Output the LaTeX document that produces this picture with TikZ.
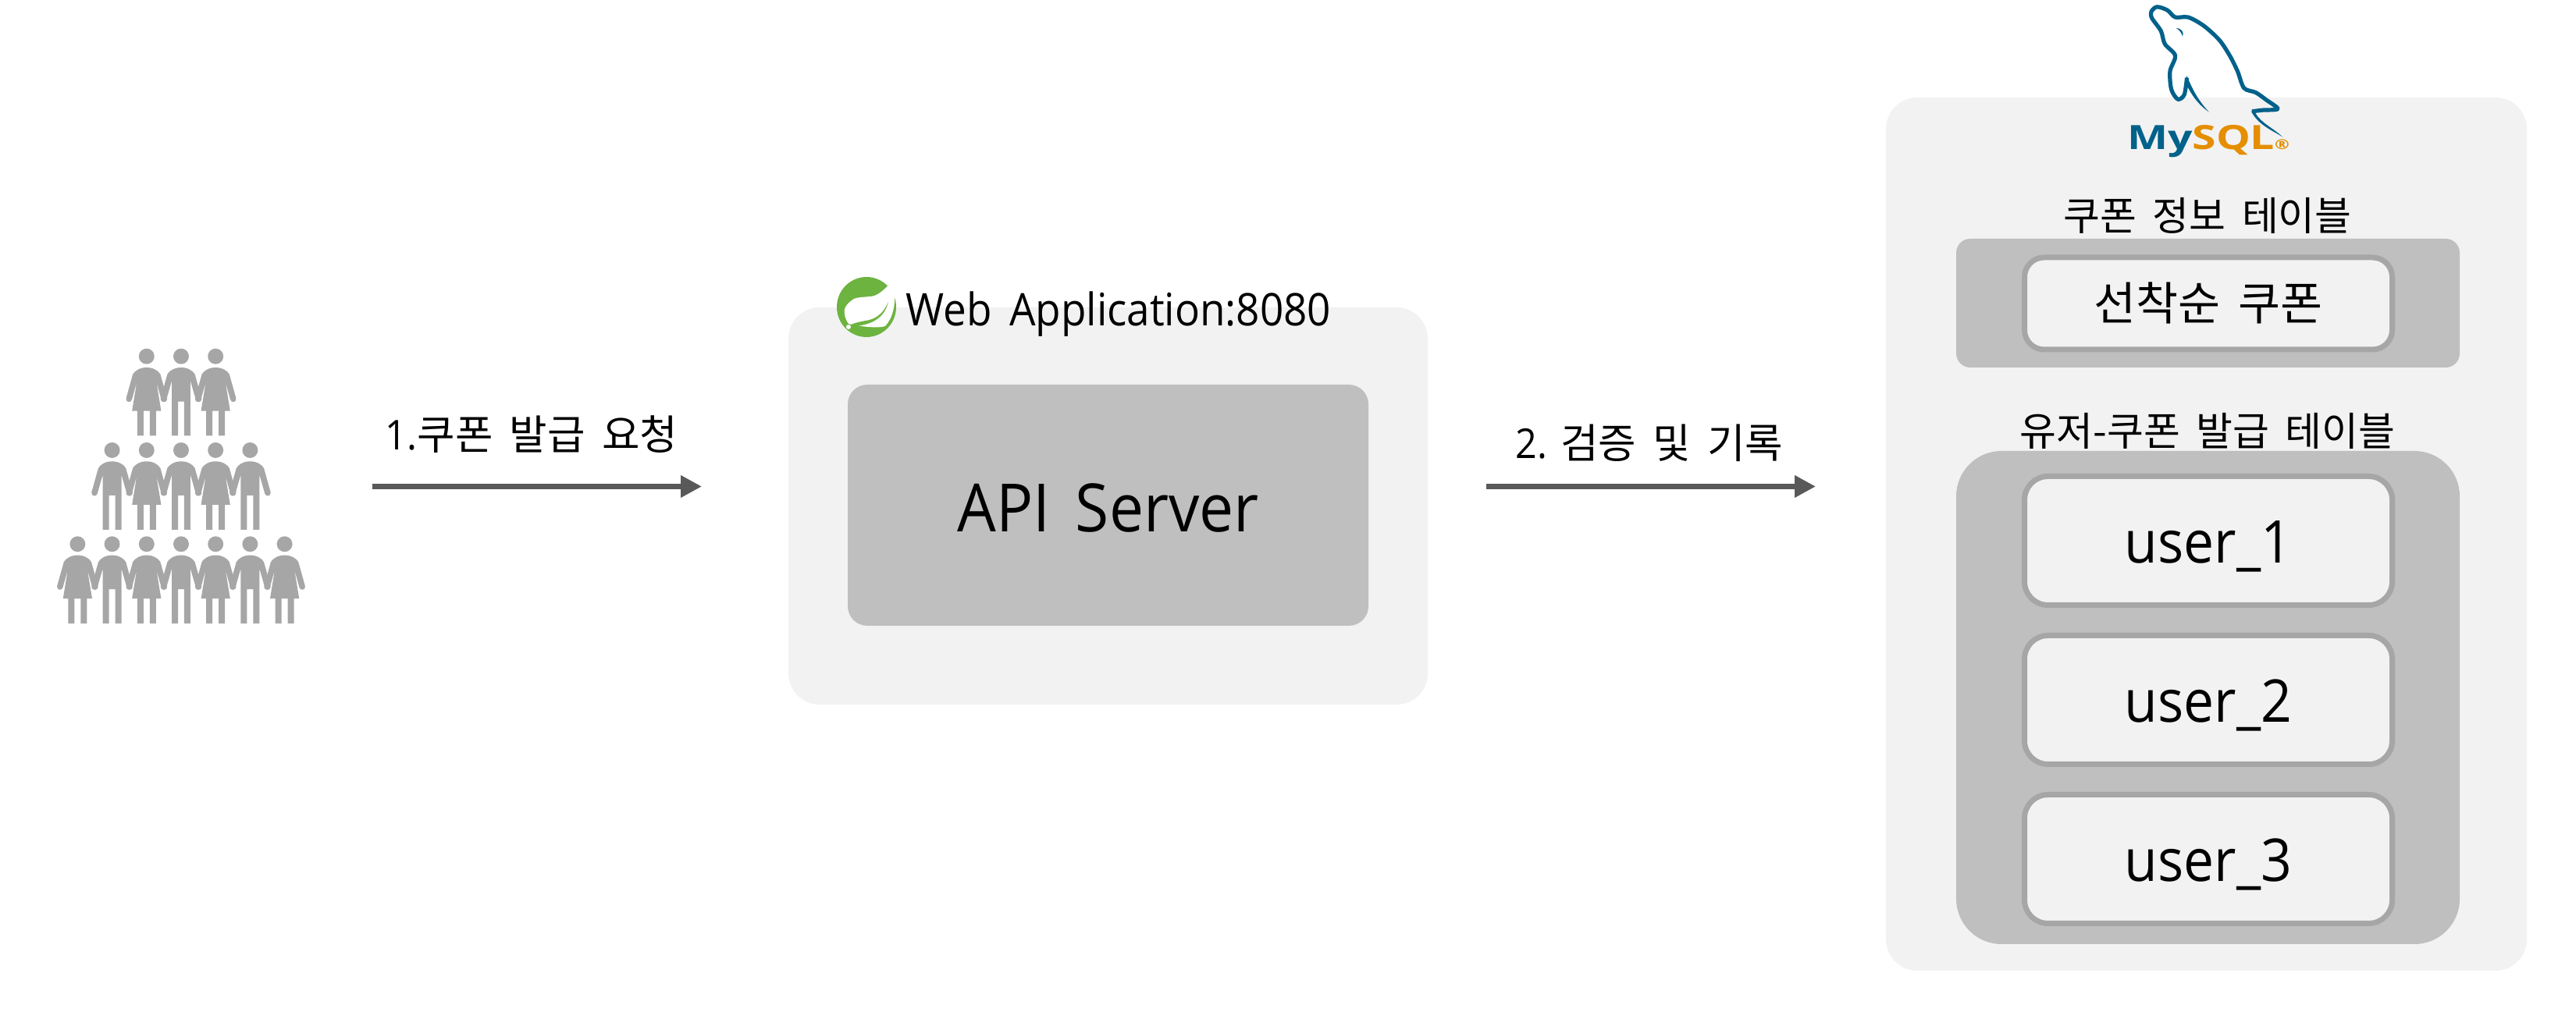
\documentclass[tikz,border=0pt]{standalone}
\usepackage{fontspec}
\setmainfont[FakeStretch=0.92]{Open Sans}
\newfontfamily\wide[FakeStretch=0.92, WordSpace=1.6]{Open Sans}
\newfontfamily\kr[WordSpace=1.8]{Noto Sans CJK KR}
\usetikzlibrary{arrows.meta, positioning}
\definecolor{PanelGray}{RGB}{242,242,242}
\definecolor{BoxGray}{RGB}{191,191,191}
\definecolor{EdgeGray}{RGB}{166,166,166}
\definecolor{FlowGray}{RGB}{89,89,89}
\definecolor{SpringGreen}{RGB}{109,179,63}
\definecolor{MysqlBlue}{RGB}{0,97,138}
\definecolor{MysqlOrange}{RGB}{228,142,0}
\tikzset{
  man/.pic={
    \begin{scope}[x=0.00333cm, y=-0.00333cm]
      \fill[EdgeGray] (0,0) circle (30) (68,165) circle (11) (-68,165) circle (11);
      \fill[EdgeGray] (0,43) .. controls (25,43) and (45,55) .. (53,69) -- (79,162) -- (57,168) -- (36,95)
        -- (36,306) -- (12,306) -- (12,174) -- (-12,174) -- (-12,306) -- (-36,306) -- (-36,95)
        -- (-57,168) -- (-79,162) -- (-53,69) .. controls (-45,55) and (-25,43) .. (0,43) -- cycle;
    \end{scope}
  },
  woman/.pic={
    \begin{scope}[x=0.00333cm, y=-0.00333cm]
      \fill[EdgeGray] (0,0) circle (30) (68,165) circle (11) (-68,165) circle (11);
      \fill[EdgeGray] (0,43) .. controls (25,43) and (45,55) .. (53,69) -- (79,162) -- (57,168) -- (38,100)
        -- (56,210) -- (36,210) -- (36,306) -- (12,306) -- (12,210) -- (-12,210) -- (-12,306) -- (-36,306)
        -- (-36,210) -- (-56,210) -- (-38,100) -- (-57,168) -- (-79,162) -- (-53,69)
        .. controls (-45,55) and (-25,43) .. (0,43) -- cycle;
    \end{scope}
  },
}

\begin{document}
\begin{tikzpicture}[
      panel/.style={fill=PanelGray, rounded corners=0.4cm, outer sep=0pt},
      greybox/.style={fill=BoxGray, outer sep=0pt},
      rowbox/.style={draw=EdgeGray, fill=PanelGray, line width=0.07cm, rounded corners=0.3cm,
                     minimum width=4.71cm, minimum height=1.65cm, outer sep=0pt,
                     text height=0.70cm, text depth=0.12cm,
                     font=\fontsize{21.5}{26}\selectfont},
      flow/.style={-{Triangle[length=0.27cm, width=0.27cm]}, line width=0.067cm, FlowGray},
      caption/.style={font=\kr\fontsize{14.5}{17}\selectfont, inner sep=0pt},
      flowlabel/.style={font=\fontsize{15}{18}\selectfont, inner sep=0pt},
    ]
      \useasboundingbox (0,0) rectangle (33,12.97);

      % crowd
      \node[minimum width=3.18cm, minimum height=3.53cm, outer sep=0pt] (crowd) at (2.32,6.735) {};
      \foreach \col/\kind in {-1/woman, 0/man, 1/woman}
        \pic at (2.32+\col*0.442,8.403) {\kind};
      \foreach \col/\kind in {-2/man, -1/woman, 0/man, 1/woman, 2/man}
        \pic at (2.32+\col*0.442,7.2) {\kind};
      \foreach \col/\kind in {-3/woman, -2/man, -1/woman, 0/man, 1/woman, 2/man, 3/woman}
        \pic at (2.32+\col*0.442,5.997) {\kind};

      % web application
      \node[panel, minimum width=8.19cm, minimum height=5.09cm] (webapp) at (14.195,6.485) {};
      \node[greybox, rounded corners=0.25cm, minimum width=6.67cm, minimum height=3.09cm,
            text height=0.79cm, text depth=0.1cm,
            font=\wide\fontsize{24.3}{30}\selectfont] (api) at (14.195,6.495) {API Server};

      \fill[SpringGreen] (11.10,9.035) ellipse (0.38cm and 0.385cm);
      \fill[white] (11.43,9.37) .. controls (11.30,9.22) and (11.22,9.17) .. (11.14,9.17)
        .. controls (11.05,9.16) and (10.98,9.16) .. (10.94,9.14)
        .. controls (10.84,9.08) and (10.80,9.00) .. (10.82,8.95)
        .. controls (10.82,8.90) and (10.85,8.85) .. (10.87,8.82)
        .. controls (11.05,8.78) and (11.25,8.76) .. (11.34,8.79)
        .. controls (11.44,8.90) and (11.50,9.10) .. (11.43,9.37) -- cycle;
      \fill[SpringGreen] (11.38,9.10) .. controls (11.33,8.98) and (11.25,8.90) .. (11.14,8.87)
        .. controls (11.05,8.85) and (10.95,8.84) .. (10.89,8.80)
        -- (10.98,8.79) .. controls (11.10,8.81) and (11.32,8.85) .. (11.38,9.10) -- cycle;
      \fill[white] (10.87,8.78) circle (0.03);
      \node[anchor=base west, inner sep=0pt, font=\wide\fontsize{16.4}{20}\selectfont] (webtitle)
        at (11.60,8.79) {Web Application:8080};

      % mysql
      \node[panel, minimum width=8.21cm, minimum height=11.19cm] (dbbox) at (28.265,6.125) {};
      \begin{scope}[x=0.00333cm, y=-0.00333cm, shift={(7808,-3895)}]
        \draw[MysqlBlue, line width=0.052cm, line join=round] plot[smooth] coordinates
          {(866,425) (905,420) (965,415) (920,380) (880,352) (835,335) (810,270) (780,210) (740,150)
           (680,95) (620,62) (570,62) (540,35) (500,22) (478,40) (480,65) (515,115) (530,165) (570,210)
           (550,270) (555,340) (580,378) (605,360) (615,295)};
        \fill[MysqlBlue] (608,310) -- (615,288) .. controls (640,350) and (665,390) .. (700,427)
          .. controls (660,400) and (630,360) .. (608,310) -- cycle;
        \fill[MysqlBlue] (862,423) -- (878,430) .. controls (900,470) and (950,490) .. (984,524)
          .. controls (950,500) and (890,480) .. (862,423) -- cycle;
        \fill[MysqlBlue] (574,104) .. controls (595,105) and (605,120) .. (598,136)
          .. controls (594,120) and (586,112) .. (574,104) -- cycle;
      \end{scope}
      \node[xscale=1.4, inner sep=0pt, font=\bfseries\fontsize{12.2}{14}\selectfont] (mysqlname)
        at (28.29,11.16) {\textcolor{MysqlBlue}{My}\textcolor{MysqlOrange}{SQL}\textcolor{MysqlOrange}{\fontsize{5}{6}\selectfont ®}};

      % coupon table
      \node[greybox, rounded corners=0.18cm, minimum width=6.45cm, minimum height=1.65cm] (coupontable)
        at (28.285,9.085) {};
      \node[rowbox, minimum height=1.18cm, rounded corners=0.25cm, text height=\baselineskip, text depth=0pt,
            font=\kr\fontsize{16.7}{20}\selectfont] (coupon) at (28.29,9.08) {선착순 쿠폰};
      \node[caption] (coupontitle) at (28.28,10.21) {쿠폰 정보 테이블};

      % issue table
      \node[greybox, rounded corners=0.58cm, minimum width=6.45cm, minimum height=6.32cm] (issuetable)
        at (28.285,4.03) {};
      \node[rowbox] (user1) at (28.29,6.04) {user\_1};
      \node[rowbox, below=0.39cm of user1] (user2) {user\_2};
      \node[rowbox, below=0.39cm of user2] (user3) {user\_3};
      \node[caption] (issuetitle) at (28.28,7.445) {유저-쿠폰 발급 테이블};

      % requests
      \draw[flow, shorten <=0.86cm, shorten >=1.11cm] (crowd.east) -- (crowd.east -| webapp.west);
      \draw[flow, shorten <=0.75cm, shorten >=0.90cm] (crowd.east -| webapp.east) -- (crowd.east -| dbbox.west);
      \node[flowlabel] (reqlabel) at (6.81,7.40) {1.{\kr 쿠폰 발급 요청}};
      \node[flowlabel] (loglabel) at (21.13,7.29) {2. {\kr 검증 및 기록}};
    \end{tikzpicture}
\end{document}
